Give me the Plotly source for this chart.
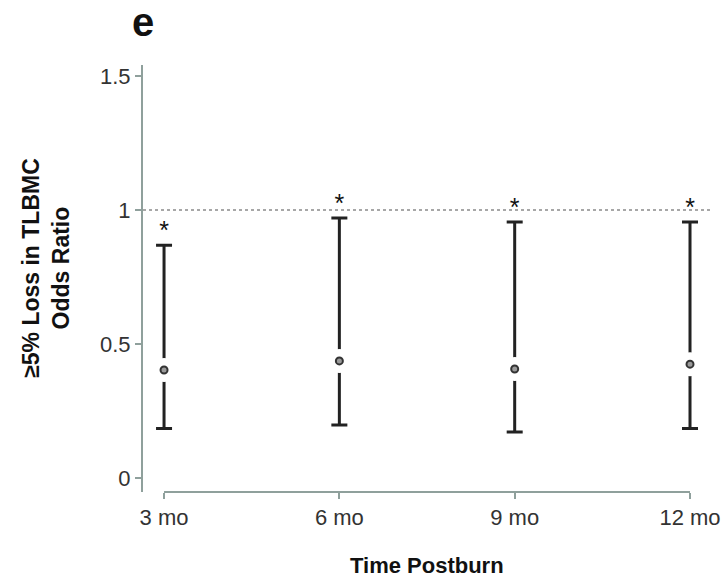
import plotly.graph_objects as go

categories = ["3 mo", "6 mo", "9 mo", "12 mo"]
x_pos = [1, 2, 3, 4]
odds_ratio = [0.403, 0.437, 0.407, 0.425]
ci_upper = [0.869, 0.970, 0.955, 0.955]
ci_lower = [0.185, 0.198, 0.172, 0.185]
significance = ["*", "*", "*", "*"]
y_tickvals = [0, 0.5, 1, 1.5]
y_ticktext = ["0", "0.5", "1", "1.5"]
reference_line = 1

FONT = "Liberation Sans, Arial, sans-serif"
AXIS_COLOR = "#8fa09c"
INK = "#222222"

err_plus = [u - p for u, p in zip(ci_upper, odds_ratio)]
err_minus = [p - l for p, l in zip(odds_ratio, ci_lower)]

fig = go.Figure()

# CI bars
fig.add_trace(go.Scatter(
    x=x_pos, y=odds_ratio, mode="markers",
    marker=dict(size=1, color="rgba(0,0,0,0)"),
    error_y=dict(type="data", symmetric=False, array=err_plus, arrayminus=err_minus,
                 color=INK, thickness=3, width=8),
    showlegend=False, hoverinfo="skip"))

# white halo around point estimate
fig.add_trace(go.Scatter(
    x=x_pos, y=odds_ratio, mode="markers",
    marker=dict(size=24, color="white", line=dict(width=0)),
    showlegend=False, hoverinfo="skip"))

# point estimate
fig.add_trace(go.Scatter(
    x=x_pos, y=odds_ratio, mode="markers",
    marker=dict(size=7, color="#9a9a9a", line=dict(width=2, color="#333333")),
    showlegend=False))

# significance stars
fig.add_trace(go.Scatter(
    x=x_pos, y=ci_upper, mode="text", text=significance,
    textposition="top center",
    textfont=dict(size=25, color="#111111", family=FONT),
    showlegend=False, hoverinfo="skip"))

# reference line at OR = 1
fig.add_shape(type="line", xref="paper", yref="y", x0=0, x1=1,
              y0=reference_line, y1=reference_line,
              line=dict(color="#8a8a8a", width=1.5, dash="3px,3px"), layer="below")

# x axis line spanning first to last category
fig.add_shape(type="line", xref="x", yref="paper", x0=x_pos[0], x1=x_pos[-1],
              y0=0, y1=0, line=dict(color=AXIS_COLOR, width=2))

fig.update_layout(
    width=728, height=582,
    margin=dict(l=143, r=18, t=65, b=90, autoexpand=False),
    paper_bgcolor="white", plot_bgcolor="white",
    font=dict(family=FONT, color="#333333", size=22),
    xaxis=dict(range=[0.88, 4.114], tickvals=x_pos, ticktext=categories,
               showline=False, showgrid=False, zeroline=False, automargin=False,
               ticks="outside", ticklen=6, tickwidth=2, tickcolor=AXIS_COLOR,
               tickfont=dict(size=22, color="#333333")),
    yaxis=dict(range=[-0.052, 1.541], tickvals=y_tickvals, ticktext=y_ticktext,
               showline=True, linecolor=AXIS_COLOR, linewidth=2,
               showgrid=False, zeroline=False, automargin=False,
               ticks="outside", ticklen=6, tickwidth=1.5, tickcolor=AXIS_COLOR,
               tickfont=dict(size=22, color="#333333")),
    annotations=[
        dict(text="<b>e</b>", xref="paper", yref="paper", x=0.0, y=1.10,
             xanchor="center", yanchor="middle", showarrow=False,
             font=dict(size=40, color="#111111", family=FONT)),
        dict(text="<b>≥5% Loss in TLBMC<br>Odds Ratio</b>", xref="paper", yref="paper",
             x=-0.171, y=0.525, xanchor="center", yanchor="middle", textangle=-90,
             showarrow=False, font=dict(size=23, color="#111111", family=FONT)),
        dict(text="<b>Time Postburn</b>", xref="paper", yref="paper",
             x=0.501, y=-0.171, xanchor="center", yanchor="middle",
             showarrow=False, font=dict(size=22, color="#111111", family=FONT)),
    ],
)

fig.write_html("out.html")
